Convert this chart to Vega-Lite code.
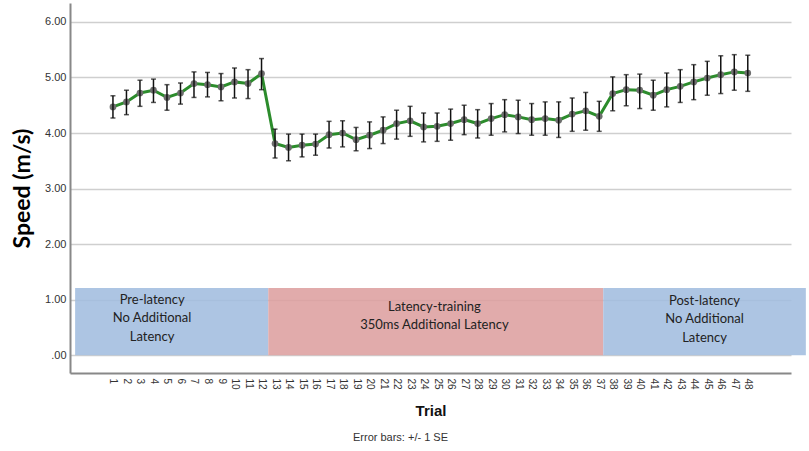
{
  "$schema": "https://vega.github.io/schema/vega-lite/v6.json",
  "description": "Mean speed per trial with +/- 1 SE error bars and latency phases",
  "width": 721,
  "height": 370,
  "autosize": {"type": "none"},
  "padding": {"left": 70, "top": 3, "right": 18, "bottom": 78},
  "background": "white",
  "title": {
    "text": "Error bars: +/- 1 SE",
    "orient": "bottom",
    "anchor": "middle",
    "font": "Liberation Sans",
    "fontSize": 11,
    "fontWeight": "normal",
    "color": "#333",
    "offset": 14,
    "dx": -30
  },
  "datasets": {
    "speed": [
      {"trial": 1, "mean": 4.47, "lo": 4.27, "hi": 4.67},
      {"trial": 2, "mean": 4.56, "lo": 4.33, "hi": 4.77},
      {"trial": 3, "mean": 4.72, "lo": 4.48, "hi": 4.95},
      {"trial": 4, "mean": 4.77, "lo": 4.55, "hi": 4.97},
      {"trial": 5, "mean": 4.64, "lo": 4.41, "hi": 4.87},
      {"trial": 6, "mean": 4.72, "lo": 4.52, "hi": 4.90},
      {"trial": 7, "mean": 4.89, "lo": 4.64, "hi": 5.10},
      {"trial": 8, "mean": 4.87, "lo": 4.65, "hi": 5.09},
      {"trial": 9, "mean": 4.83, "lo": 4.58, "hi": 5.07},
      {"trial": 10, "mean": 4.92, "lo": 4.63, "hi": 5.17},
      {"trial": 11, "mean": 4.89, "lo": 4.62, "hi": 5.14},
      {"trial": 12, "mean": 5.07, "lo": 4.78, "hi": 5.34},
      {"trial": 13, "mean": 3.81, "lo": 3.55, "hi": 4.07},
      {"trial": 14, "mean": 3.74, "lo": 3.50, "hi": 3.98},
      {"trial": 15, "mean": 3.78, "lo": 3.57, "hi": 3.98},
      {"trial": 16, "mean": 3.80, "lo": 3.60, "hi": 3.98},
      {"trial": 17, "mean": 3.97, "lo": 3.73, "hi": 4.21},
      {"trial": 18, "mean": 4.00, "lo": 3.75, "hi": 4.22},
      {"trial": 19, "mean": 3.88, "lo": 3.68, "hi": 4.10},
      {"trial": 20, "mean": 3.96, "lo": 3.72, "hi": 4.20},
      {"trial": 21, "mean": 4.05, "lo": 3.81, "hi": 4.29},
      {"trial": 22, "mean": 4.17, "lo": 3.89, "hi": 4.41},
      {"trial": 23, "mean": 4.22, "lo": 3.94, "hi": 4.48},
      {"trial": 24, "mean": 4.11, "lo": 3.84, "hi": 4.36},
      {"trial": 25, "mean": 4.12, "lo": 3.85, "hi": 4.36},
      {"trial": 26, "mean": 4.17, "lo": 3.87, "hi": 4.43},
      {"trial": 27, "mean": 4.24, "lo": 3.97, "hi": 4.50},
      {"trial": 28, "mean": 4.17, "lo": 3.91, "hi": 4.42},
      {"trial": 29, "mean": 4.26, "lo": 3.96, "hi": 4.53},
      {"trial": 30, "mean": 4.33, "lo": 4.02, "hi": 4.60},
      {"trial": 31, "mean": 4.29, "lo": 3.99, "hi": 4.59},
      {"trial": 32, "mean": 4.24, "lo": 3.96, "hi": 4.53},
      {"trial": 33, "mean": 4.26, "lo": 3.96, "hi": 4.56},
      {"trial": 34, "mean": 4.23, "lo": 3.92, "hi": 4.56},
      {"trial": 35, "mean": 4.34, "lo": 4.03, "hi": 4.63},
      {"trial": 36, "mean": 4.40, "lo": 4.05, "hi": 4.73},
      {"trial": 37, "mean": 4.30, "lo": 4.03, "hi": 4.57},
      {"trial": 38, "mean": 4.71, "lo": 4.40, "hi": 5.01},
      {"trial": 39, "mean": 4.78, "lo": 4.49, "hi": 5.05},
      {"trial": 40, "mean": 4.77, "lo": 4.44, "hi": 5.06},
      {"trial": 41, "mean": 4.68, "lo": 4.41, "hi": 4.95},
      {"trial": 42, "mean": 4.78, "lo": 4.47, "hi": 5.08},
      {"trial": 43, "mean": 4.84, "lo": 4.55, "hi": 5.14},
      {"trial": 44, "mean": 4.92, "lo": 4.60, "hi": 5.23},
      {"trial": 45, "mean": 4.99, "lo": 4.68, "hi": 5.29},
      {"trial": 46, "mean": 5.05, "lo": 4.71, "hi": 5.39},
      {"trial": 47, "mean": 5.10, "lo": 4.77, "hi": 5.41},
      {"trial": 48, "mean": 5.08, "lo": 4.75, "hi": 5.40}
    ],
    "phases": [
      {"phase": "Pre-latency", "latency": "none", "start": -1.8, "end": 12.5, "bottom": 0, "top": 1.21,
       "label": ["Pre-latency", "No Additional", "Latency"], "labelAt": 3.9, "labelY": 1.0},
      {"phase": "Latency-training", "latency": "350ms", "start": 12.5, "end": 37.3, "bottom": 0, "top": 1.21,
       "label": ["Latency-training", "350ms Additional  Latency"], "labelAt": 24.8, "labelY": 0.87},
      {"phase": "Post-latency", "latency": "none", "start": 37.3, "end": 52.3, "bottom": 0, "top": 1.21,
       "label": ["Post-latency", "No Additional", "Latency"], "labelAt": 44.8, "labelY": 0.98}
    ]
  },
  "layer": [
    {
      "data": {"name": "phases"},
      "mark": {"type": "rect", "opacity": 0.88},
      "encoding": {
        "x": {
          "field": "start",
          "type": "quantitative",
          "title": "Trial",
          "scale": {"domain": [-2.18, 51.2], "nice": false, "zero": false},
          "axis": {
            "values": [1,2,3,4,5,6,7,8,9,10,11,12,13,14,15,16,17,18,19,20,21,22,23,24,25,26,27,28,29,30,31,32,33,34,35,36,37,38,39,40,41,42,43,44,45,46,47,48],
            "tickCount": 60,
            "labelAngle": 90,
            "labelAlign": "left",
            "labelBaseline": "middle",
            "labelOverlap": false,
            "labelFont": "Liberation Sans",
            "labelFontSize": 10,
            "labelColor": "#333",
            "labelPadding": 5,
            "ticks": false,
            "grid": false,
            "domainColor": "#888",
            "domainWidth": 2,
            "titleFont": "Liberation Sans",
            "titleFontSize": 15,
            "titleFontWeight": "bold",
            "titleColor": "#111",
            "titlePadding": 14
          }
        },
        "x2": {"field": "end"},
        "y": {
          "field": "bottom",
          "type": "quantitative",
          "title": "Speed (m/s)",
          "scale": {"domain": [-0.32, 6.34], "nice": false, "zero": false},
          "axis": {
            "values": [0, 1, 2, 3, 4, 5, 6],
            "labelExpr": "datum.value == 0 ? '.00' : format(datum.value, '.2f')",
            "labelFont": "Liberation Sans",
            "labelFontSize": 11,
            "labelColor": "#333",
            "labelPadding": 4,
            "ticks": false,
            "grid": true,
            "gridColor": "#cfcfcf",
            "gridWidth": 1.5,
            "domainColor": "#888",
            "domainWidth": 2,
            "titleFont": "Lato",
            "titleFontSize": 23,
            "titleFontWeight": "bold",
            "titleColor": "#000",
            "titlePadding": 10
          }
        },
        "y2": {"field": "top"},
        "color": {
          "field": "latency",
          "type": "nominal",
          "scale": {"domain": ["none", "350ms"], "range": ["#a2bddf", "#dd9f9f"]},
          "legend": null
        }
      }
    },
    {
      "data": {"name": "phases"},
      "mark": {"type": "text", "font": "Lato", "fontSize": 13, "color": "#222", "lineHeight": 18.5, "baseline": "middle", "align": "center"},
      "encoding": {
        "x": {"field": "labelAt", "type": "quantitative", "title": "Trial"},
        "y": {"field": "labelY", "type": "quantitative", "title": "Speed (m/s)"},
        "text": {"field": "label"}
      }
    },
    {
      "data": {"name": "speed"},
      "mark": {"type": "line", "color": "#2c8c2c", "strokeWidth": 3},
      "encoding": {
        "x": {"field": "trial", "type": "quantitative", "title": "Trial"},
        "y": {"field": "mean", "type": "quantitative", "title": "Speed (m/s)"}
      }
    },
    {
      "data": {"name": "speed"},
      "mark": {"type": "point", "filled": true, "color": "#6e6e6e", "size": 45, "opacity": 1},
      "encoding": {
        "x": {"field": "trial", "type": "quantitative", "title": "Trial"},
        "y": {"field": "mean", "type": "quantitative", "title": "Speed (m/s)"}
      }
    },
    {
      "data": {"name": "speed"},
      "mark": {"type": "errorbar", "ticks": {"size": 5, "color": "#111", "thickness": 1.5}, "rule": {"color": "#111", "strokeWidth": 1.5}},
      "encoding": {
        "x": {"field": "trial", "type": "quantitative", "title": "Trial"},
        "y": {"field": "lo", "type": "quantitative", "title": "Speed (m/s)"},
        "y2": {"field": "hi"}
      }
    }
  ],
  "config": {"view": {"stroke": null}}
}
